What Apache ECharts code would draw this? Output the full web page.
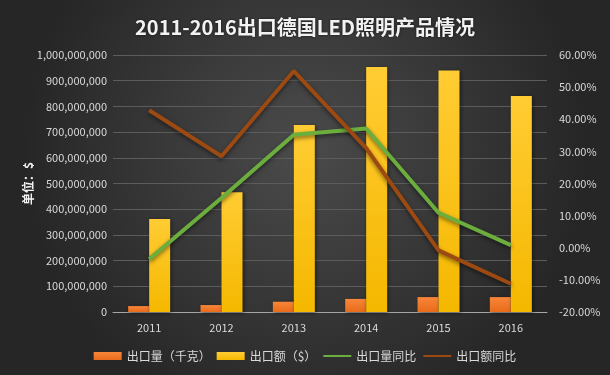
<!DOCTYPE html>
<html><head><meta charset="utf-8">
<script src="https://cdn.jsdelivr.net/npm/echarts@6/dist/echarts.min.js"></script>
<style>html,body{margin:0;padding:0;background:#333;}#c{width:610px;height:375px;}</style>
</head><body><div id="c"></div>
<script>
const years = ['2011','2012','2013','2014','2015','2016'];
const exportQty = [23000000, 27000000, 40000000, 51000000, 58000000, 58000000];
const exportAmt = [362000000, 466000000, 728000000, 953000000, 940000000, 840000000];
const qtyYoY = [-3.6, 15.5, 35.2, 37.1, 10.9, 0.8];
const amtYoY = [42.8, 28.5, 55.0, 31.0, -0.8, -11.2];
const seriesNames = ['出口量（千克）', '出口额（$）', '出口量同比', '出口额同比'];

const chart = echarts.init(document.getElementById('c'), null, {renderer:'canvas'});
const font = "'Noto Sans CJK SC', 'Noto Sans', sans-serif";
chart.setOption({
  backgroundColor: {type:'radial', x:0.5, y:0.4, r:0.75, colorStops:[{offset:0,color:'#4b4b4b'},{offset:1,color:'#262626'}]},
  animation:false,
  title:{text:'2011-2016出口德国LED照明产品情况', left:'center', top:12,
    textStyle:{color:'#f2f2f2', fontSize:20, fontWeight:'bold', fontFamily:font,
      textShadowColor:'rgba(0,0,0,0.6)', textShadowBlur:3}},
  legend:{bottom:8, left:'center', itemGap:6, itemWidth:28, itemHeight:8,
    textStyle:{color:'#d9d9d9', fontSize:12, fontFamily:font},
    data:[{name:seriesNames[0], icon:'rect'},{name:seriesNames[1], icon:'rect'},
      {name:seriesNames[2], itemStyle:{opacity:0}},{name:seriesNames[3], itemStyle:{opacity:0}}]},
  grid:{left:113, right:63, top:55, bottom:63},
  xAxis:{type:'category', data:years,
    axisLine:{lineStyle:{color:'#a6a6a6', width:1}}, axisTick:{show:false},
    axisLabel:{color:'#d9d9d9', fontSize:11, fontFamily:font, margin:10}},
  yAxis:[
    {type:'value', min:0, max:1000000000, interval:100000000,
     name:'单位：$', nameLocation:'middle', nameGap:79, nameRotate:90, nameMoveOverlap:false,
     nameTextStyle:{color:'#f2f2f2', fontSize:12, fontWeight:'bold', fontFamily:font},
     axisLine:{show:false}, axisTick:{show:false},
     axisLabel:{color:'#d9d9d9', fontSize:11, fontFamily:font, margin:6,
       formatter:v=>v.toLocaleString('en-US')},
     splitLine:{lineStyle:{color:'#5c5c5c', width:1}}},
    {type:'value', min:-20, max:60, interval:10,
     axisLine:{show:false}, axisTick:{show:false}, splitLine:{show:false},
     axisLabel:{color:'#d9d9d9', fontSize:11, fontFamily:font, margin:12,
       formatter:v=>v.toFixed(2)+'%'}}
  ],
  series:[
    {name:seriesNames[0], type:'bar', data:exportQty, barWidth:21, barGap:'0%',
     itemStyle:{color:{type:'linear',x:0,y:0,x2:0,y2:1,colorStops:[{offset:0,color:'#f7863a'},{offset:1,color:'#e86b1a'}]},
       shadowColor:'rgba(0,0,0,0.5)', shadowBlur:4, shadowOffsetX:1, shadowOffsetY:1}},
    {name:seriesNames[1], type:'bar', data:exportAmt, barWidth:21, barGap:'0%',
     itemStyle:{color:{type:'linear',x:0,y:0,x2:0,y2:1,colorStops:[{offset:0,color:'#ffcc33'},{offset:1,color:'#f5b800'}]},
       shadowColor:'rgba(0,0,0,0.5)', shadowBlur:4, shadowOffsetX:1, shadowOffsetY:1}},
    {name:seriesNames[2], type:'line', yAxisIndex:1, data:qtyYoY, symbol:'none',
     lineStyle:{color:'#6cae3e', width:4, shadowColor:'rgba(0,0,0,0.5)', shadowBlur:4, shadowOffsetY:2},
     itemStyle:{color:'#6cae3e'}},
    {name:seriesNames[3], type:'line', yAxisIndex:1, data:amtYoY, symbol:'none',
     lineStyle:{color:'#9c4a12', width:4, shadowColor:'rgba(0,0,0,0.5)', shadowBlur:4, shadowOffsetY:2},
     itemStyle:{color:'#9c4a12'}}
  ]
});
</script></body></html>
